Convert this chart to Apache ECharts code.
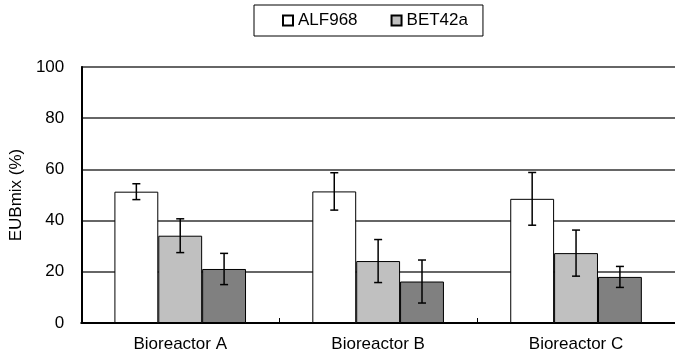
<!DOCTYPE html>
<html>
<head>
<meta charset="utf-8">
<script src="https://cdn.jsdelivr.net/npm/echarts@6/dist/echarts.min.js"></script>
<style>
  html, body { margin: 0; padding: 0; background: #fff; }
  #chart { width: 675px; height: 358px; }
</style>
</head>
<body>
<div id="chart"></div>
<script>
// data
const categories = ['Bioreactor A', 'Bioreactor B', 'Bioreactor C']
const alf968 = [51.3, 51.4, 48.5]
const alf968Err = [3.1, 7.3, 10.3]
const bet42a = [34.1, 24.2, 27.3]
const bet42aErr = [6.6, 8.4, 9.0]
const third = [21.1, 16.2, 18.0]
const thirdErr = [6.1, 8.4, 4.1]
const yTicks = [0, 20, 40, 60, 80, 100]

const FONT = '"Liberation Sans", Arial, sans-serif'
const GAP = 0.335 // barCategoryGap fraction

const groups = [
  { name: 'ALF968', color: '#ffffff', values: alf968, err: alf968Err },
  { name: 'BET42a', color: '#c0c0c0', values: bet42a, err: bet42aErr },
  { name: 'series3', color: '#808080', values: third, err: thirdErr },
]

const chart = echarts.init(document.getElementById('chart'))

const barSeries = groups.map(g => ({
  name: g.name,
  type: 'bar',
  barGap: '0%',
  barCategoryGap: (GAP * 100) + '%',
  itemStyle: { color: g.color, borderColor: '#000', borderWidth: 1 },
  data: g.values,
  z: 2,
}))

// error bars drawn through the axis coordinates
const errSeries = groups.map((g, gi) => ({
  type: 'custom',
  name: g.name + '-err',
  data: g.values.map((v, i) => [i, v - g.err[i], v + g.err[i]]),
  z: 5,
  renderItem: (params, api) => {
    const band = api.size([1, 0])[0]
    const bw = band * (1 - GAP) / groups.length
    const off = (gi - (groups.length - 1) / 2) * bw
    const lo = api.coord([api.value(0), api.value(1)])
    const hi = api.coord([api.value(0), api.value(2)])
    const x = lo[0] + off
    const cap = 4
    const style = { stroke: '#000', lineWidth: 1.5 }
    return {
      type: 'group',
      children: [
        { type: 'line', shape: { x1: x, y1: lo[1], x2: x, y2: hi[1] }, style },
        { type: 'line', shape: { x1: x - cap, y1: lo[1], x2: x + cap, y2: lo[1] }, style },
        { type: 'line', shape: { x1: x - cap, y1: hi[1], x2: x + cap, y2: hi[1] }, style },
      ]
    }
  }
}))

chart.setOption({
  animation: false,
  textStyle: { fontFamily: FONT },
  legend: {
    data: ['ALF968', 'BET42a'],
    left: 254,
    top: 5,
    padding: [7, 15, 7, 28],
    itemGap: 33,
    itemWidth: 10,
    itemHeight: 10,
    icon: 'rect',
    borderColor: '#000',
    borderWidth: 1,
    textStyle: { fontSize: 17, color: '#000', fontFamily: FONT },
  },
  grid: { left: 81, top: 67, width: 602, height: 256 },
  xAxis: {
    type: 'category',
    data: categories,
    axisLine: { lineStyle: { color: '#000', width: 2 } },
    axisTick: { show: true, inside: true, length: 5, alignWithLabel: false, lineStyle: { color: '#000' } },
    axisLabel: { fontSize: 17, color: '#000', margin: 13 },
  },
  yAxis: {
    type: 'value',
    min: yTicks[0],
    max: yTicks[yTicks.length - 1],
    interval: 20,
    name: 'EUBmix (%)',
    nameLocation: 'middle',
    nameGap: 54,
    nameTextStyle: { fontSize: 17, color: '#000' },
    axisLine: { show: true, lineStyle: { color: '#000', width: 2 } },
    axisTick: { show: false },
    axisLabel: { fontSize: 17, color: '#000', margin: 17 },
    splitLine: { lineStyle: { color: '#333', width: 1.5 } },
  },
  series: [...barSeries, ...errSeries],
})
</script>
</body>
</html>
